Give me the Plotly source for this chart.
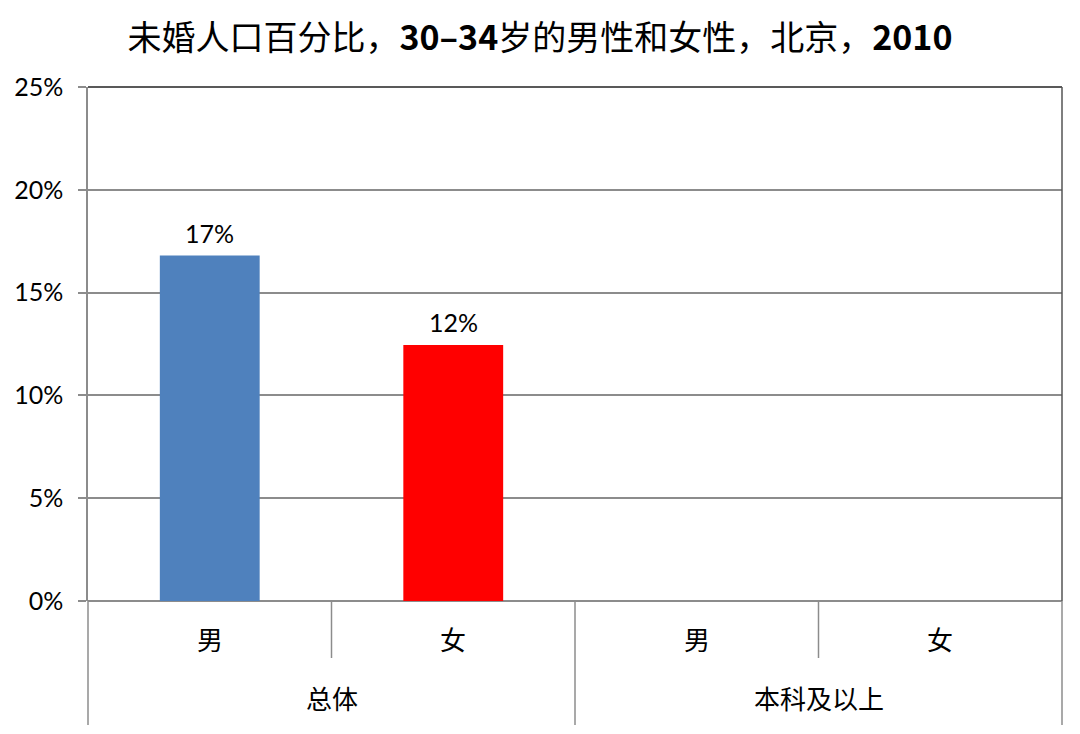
import plotly.graph_objects as go

# Data
groups = ["总体", "总体", "本科及以上", "本科及以上"]
sexes = ["男", "女", "男", "女"]
values = [0.168, 0.1245, None, None]
bar_colors = ["#4F81BD", "#FF0000", "#4F81BD", "#FF0000"]
y_ticks = [0, 0.05, 0.10, 0.15, 0.20, 0.25]

n = len(sexes)
xs = list(range(n))
grid_gray = "#8c8c8c"

fig = go.Figure()

fig.add_trace(go.Bar(
    x=xs,
    y=values,
    marker=dict(color=bar_colors, line=dict(width=0)),
    showlegend=False,
    hoverinfo="skip"
))

# value labels above the bars
for i, v in enumerate(values):
    if v is None:
        continue
    fig.add_annotation(
        x=i, y=v, xref="x", yref="y",
        text=f"{v:.0%}", showarrow=False,
        yanchor="bottom", yshift=6,
        font=dict(family="Lato", size=25, color="#000000")
    )

# sex labels under each bar slot
for i, s in enumerate(sexes):
    fig.add_annotation(
        x=i, y=0, xref="x", yref="paper",
        text=s, showarrow=False,
        yshift=-37, yanchor="middle",
        font=dict(family="Noto Sans CJK SC", size=26, color="#000000")
    )

# group labels, centred under their slots
seen = []
for g in groups:
    if g not in seen:
        seen.append(g)
for g in seen:
    idx = [i for i, gg in enumerate(groups) if gg == g]
    fig.add_annotation(
        x=sum(idx) / len(idx), y=0, xref="x", yref="paper",
        text=g, showarrow=False,
        yshift=-96, yanchor="middle",
        font=dict(family="Noto Sans CJK SC", size=26, color="#000000")
    )

# dividers below the axis: long between groups, short between sexes
plot_h = 514
for k in range(n + 1):
    xp = k / n
    if k == 0 or k == n or groups[k - 1] != groups[k]:
        depth = 124
    else:
        depth = 57
    fig.add_shape(type="line", xref="paper", yref="paper",
                  x0=xp, x1=xp, y0=0, y1=-depth / plot_h,
                  line=dict(color=grid_gray, width=1.5))

# top and right frame
fig.add_shape(type="line", xref="paper", yref="paper",
              x0=0, x1=1, y0=1, y1=1, line=dict(color="#222222", width=1.5))
fig.add_shape(type="line", xref="paper", yref="paper",
              x0=1, x1=1, y0=0, y1=1, line=dict(color="#555555", width=1.5))

fig.update_layout(
    width=1080, height=734,
    margin=dict(l=88, r=18, t=87, b=133),
    paper_bgcolor="white",
    plot_bgcolor="white",
    title=dict(
        text="未婚人口百分比，<b>30–34</b>岁的男性和女性，北京，<b>2010</b>",
        x=0.5, xanchor="center", y=0.948, yanchor="middle",
        font=dict(family="Noto Sans CJK SC", size=34, color="#000000")
    ),
    bargap=0.59,
    xaxis=dict(
        range=[-0.5, n - 0.5],
        tickvals=xs,
        showticklabels=False,
        showgrid=False,
        zeroline=False,
        showline=False,
        automargin=False
    ),
    yaxis=dict(
        range=[0, 0.25],
        tickvals=y_ticks,
        tickformat=".0%",
        ticks="outside",
        ticklen=8,
        tickcolor=grid_gray,
        tickwidth=1.5,
        ticklabelstandoff=10,
        tickfont=dict(family="Lato", size=25, color="#000000"),
        showgrid=True,
        gridcolor=grid_gray,
        gridwidth=1.5,
        zeroline=True,
        zerolinecolor=grid_gray,
        zerolinewidth=1.5,
        showline=True,
        linecolor=grid_gray,
        linewidth=1.5,
        automargin=False
    )
)

fig.write_html("out.html", config={"displayModeBar": False},
               post_script="document.body.style.margin='0';")
